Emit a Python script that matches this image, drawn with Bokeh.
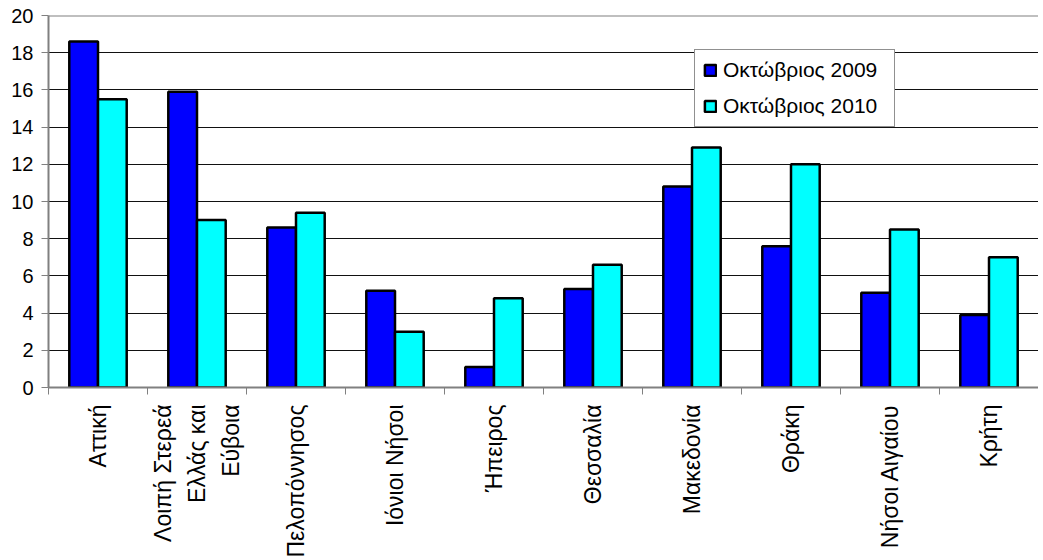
from bokeh.plotting import figure
from bokeh.models import FixedTicker, Span, Range1d, ColumnDataSource, Legend
from bokeh.embed import file_html
from bokeh.resources import INLINE
import math

regions = ["Αττική", "Λοιπή Στερεά\nΕλλάς και\nΕύβοια", "Πελοπόννησος", "Ιόνιοι Νήσοι",
           "Ήπειρος", "Θεσσαλία", "Μακεδονία", "Θράκη", "Νήσοι Αιγαίου", "Κρήτη"]
oct_2009 = [18.6, 15.9, 8.6, 5.2, 1.1, 5.3, 10.8, 7.6, 5.1, 3.9]
oct_2010 = [15.5, 9.0, 9.4, 3.0, 4.8, 6.6, 12.9, 12.0, 8.5, 7.0]
series_names = ["Οκτώβριος 2009", "Οκτώβριος 2010"]
y_ticks = [0, 2, 4, 6, 8, 10, 12, 14, 16, 18, 20]

Y_MAX = 20
BAR_W = 0.29
FONT = "Liberation Sans"

n = len(regions)
centers = [i + 0.5 for i in range(n)]
boundaries = [i for i in range(n + 1)]

src = ColumnDataSource(dict(
    x1=[c - BAR_W / 2 for c in centers],
    x2=[c + BAR_W / 2 for c in centers],
    v1=oct_2009, v2=oct_2010,
))

p = figure(frame_width=990, frame_height=372, output_backend="svg", toolbar_location=None,
           x_range=Range1d(0, n), y_range=Range1d(0, Y_MAX),
           min_border_left=48, min_border_top=15, min_border_right=0, min_border_bottom=10)
p.outline_line_color = None
p.background_fill_color = "white"
p.border_fill_color = "white"

r1 = p.vbar(x="x1", top="v1", width=BAR_W, source=src, fill_color="#0000FF",
            line_color="black", line_width=2.5)
r2 = p.vbar(x="x2", top="v2", width=BAR_W, source=src, fill_color="#00FFFF",
            line_color="black", line_width=2.5)

p.add_layout(Span(location=Y_MAX, dimension="width", line_color="#808080", line_width=2))

# x axis
xa = p.xaxis[0]
xa.ticker = FixedTicker(ticks=centers, minor_ticks=boundaries)
xa.major_label_overrides = {c: r for c, r in zip(centers, regions)}
xa.major_label_orientation = math.pi / 2
xa.major_tick_out = 0
xa.major_tick_in = 0
xa.minor_tick_out = 7
xa.minor_tick_in = 0
xa.minor_tick_line_color = "#808080"
xa.axis_line_color = "#808080"
xa.axis_line_width = 2
xa.major_label_text_font = FONT
xa.major_label_text_font_size = "23px"
xa.major_label_text_color = "black"
xa.major_label_standoff = 10
xa.major_label_text_line_height = 1.3
xa.major_label_text_align = "center"

# y axis
ya = p.yaxis[0]
ya.ticker = FixedTicker(ticks=y_ticks)
ya.major_tick_out = 7
ya.major_tick_in = 0
ya.minor_tick_line_color = None
ya.major_tick_line_color = "#808080"
ya.axis_line_color = "#808080"
ya.axis_line_width = 2
ya.major_label_text_font = FONT
ya.major_label_text_font_size = "20px"
ya.major_label_text_color = "black"
ya.major_label_standoff = 8

p.xgrid.grid_line_color = None
p.ygrid.ticker = FixedTicker(ticks=y_ticks[1:-1])
p.ygrid.grid_line_color = "#111111"
p.ygrid.grid_line_width = 1

legend = Legend(items=[(series_names[0], [r1]), (series_names[1], [r2])],
                location=(646, 260))
legend.label_text_font = FONT
legend.label_text_font_size = "21px"
legend.label_text_color = "black"
legend.glyph_width = 14
legend.glyph_height = 14
legend.label_standoff = 6
legend.label_width = 163
legend.spacing = 12
legend.padding = 8
legend.margin = 0
legend.border_line_color = "#222222"
legend.border_line_width = 1
legend.background_fill_alpha = 1
p.add_layout(legend, "center")

open("out.html", "w").write(file_html(p, INLINE))
